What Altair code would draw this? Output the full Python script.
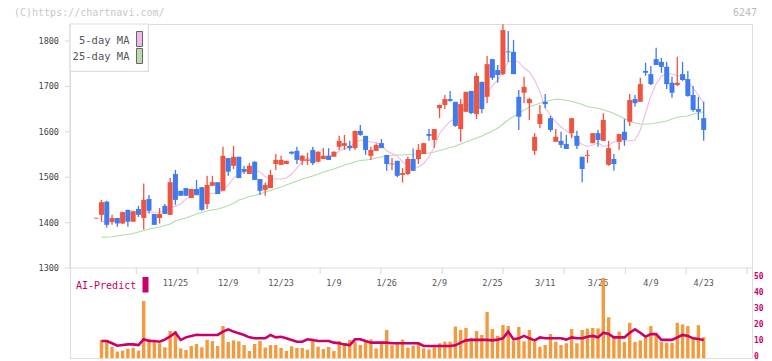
import altair as alt
import pandas as pd

# ---------------- data ----------------
opens = [1409, 1417, 1446, 1401, 1410, 1398, 1428, 1402, 1430, 1410,
         1452, 1419, 1410, 1437, 1417, 1507, 1470, 1476, 1454, 1474,
         1478, 1441, 1481, 1489, 1470, 1542, 1525, 1545, 1518, 1507,
         1534, 1496, 1472, 1476, 1529, 1527, 1529, 1556, 1558, 1536,
         1536, 1560, 1534, 1540, 1547, 1545, 1567, 1569, 1569, 1564,
         1602, 1591, 1547, 1558, 1575, 1549, 1528, 1536, 1505, 1507,
         1540, 1540, 1551, 1595, 1582, 1652, 1659, 1672, 1666, 1606,
         1644, 1690, 1639, 1710, 1677, 1760, 1736, 1727, 1777, 1776,
         1677, 1686, 1663, 1558, 1617, 1666, 1630, 1578, 1580, 1573,
         1597, 1591, 1545, 1547, 1575, 1597, 1580, 1527, 1540, 1578,
         1600, 1622, 1672, 1666, 1734, 1727, 1760, 1754, 1743, 1708,
         1703, 1727, 1716, 1681, 1650, 1630]
highs = [1410.5, 1450, 1448, 1417, 1410, 1424, 1428, 1426, 1437, 1486,
         1461, 1419, 1432, 1441, 1498, 1516, 1470, 1476, 1474, 1494,
         1478, 1503, 1503, 1489, 1567, 1542, 1569, 1545, 1525, 1531,
         1535, 1496, 1488, 1516, 1551, 1547, 1536, 1557, 1567, 1549,
         1554, 1567, 1557, 1564, 1564, 1557, 1591, 1593, 1580, 1602,
         1615, 1591, 1567, 1575, 1584, 1549, 1542, 1536, 1520, 1545,
         1563, 1573, 1576, 1606, 1606, 1660, 1681, 1690, 1666, 1672,
         1688, 1690, 1730, 1710, 1767, 1760, 1747, 1837, 1822, 1802,
         1692, 1721, 1675, 1597, 1659, 1683, 1635, 1606, 1600, 1593,
         1631, 1602, 1545, 1560, 1597, 1604, 1641, 1580, 1551, 1595,
         1628, 1683, 1681, 1719, 1752, 1745, 1785, 1763, 1754, 1721,
         1765, 1754, 1734, 1701, 1677, 1666]
lows = [1409, 1402, 1389, 1395, 1391, 1397, 1391, 1402, 1412, 1385,
        1420, 1395, 1398, 1419, 1417, 1439, 1459, 1459, 1454, 1461,
        1426, 1430, 1481, 1463, 1470, 1503, 1518, 1498, 1507, 1507,
        1494, 1461, 1459, 1476, 1516, 1527, 1529, 1550, 1529, 1527,
        1527, 1527, 1533, 1540, 1538, 1545, 1560, 1560, 1558, 1560,
        1591, 1549, 1538, 1558, 1564, 1514, 1516, 1500, 1488, 1505,
        1514, 1529, 1551, 1580, 1564, 1630, 1650, 1666, 1611, 1578,
        1644, 1639, 1628, 1641, 1663, 1714, 1708, 1725, 1754, 1727,
        1604, 1663, 1626, 1549, 1608, 1652, 1600, 1578, 1564, 1562,
        1586, 1562, 1489, 1531, 1575, 1567, 1580, 1525, 1514, 1560,
        1569, 1613, 1655, 1666, 1723, 1703, 1747, 1730, 1694, 1675,
        1701, 1712, 1677, 1644, 1626, 1580]
closes = [1410.5, 1445, 1395, 1410, 1398, 1423, 1402, 1425, 1417, 1450,
          1426, 1395, 1419, 1419, 1489, 1450, 1459, 1459, 1474, 1461,
          1428, 1483, 1489, 1463, 1547, 1512, 1545, 1498, 1512, 1525,
          1494, 1470, 1483, 1505, 1538, 1538, 1536, 1552, 1538, 1547,
          1539, 1531, 1556, 1547, 1538, 1556, 1580, 1575, 1564, 1602,
          1593, 1560, 1560, 1571, 1564, 1529, 1530, 1503, 1509, 1540,
          1514, 1560, 1575, 1591, 1606, 1659, 1672, 1668, 1613, 1661,
          1688, 1641, 1723, 1650, 1749, 1719, 1725, 1824, 1775, 1727,
          1633, 1699, 1672, 1589, 1639, 1661, 1604, 1589, 1571, 1562,
          1630, 1569, 1518, 1549, 1597, 1582, 1626, 1564, 1529, 1595,
          1582, 1670, 1663, 1705, 1730, 1705, 1747, 1743, 1705, 1686,
          1708, 1714, 1679, 1648, 1644, 1604]
ma5 = [None, 1402.0, 1403.5, 1405.7, 1409.0, 1411.2, 1414.5, 1420.0, 1422.2, 1422.7,
       1422.7, 1422.7, 1422.7, 1425.6, 1431.1, 1436.6, 1441.0, 1452.0, 1458.6, 1460.8,
       1460.8, 1461.9, 1464.5, 1465.2, 1470.7, 1482.8, 1498.2, 1507.0, 1513.7, 1515.9,
       1514.8, 1511.5, 1501.5, 1496.0, 1496.0, 1496.0, 1498.2, 1507.0, 1520.3, 1533.5,
       1541.6, 1542.3, 1543.4, 1545.6, 1546.7, 1547.8, 1557.7, 1562.1, 1566.5, 1575.3,
       1581.9, 1579.7, 1577.5, 1576.4, 1570.9, 1557.7, 1552.2, 1546.7, 1533.5, 1525.8,
       1521.4, 1522.5, 1530.2, 1544.5, 1566.5, 1596.3, 1610.6, 1622.7, 1629.3, 1639.2,
       1656.8, 1661.2, 1666.7, 1671.1, 1685.5, 1700.9, 1714.1, 1731.7, 1753.7, 1757.0,
       1753.7, 1740.5, 1731.7, 1714.1, 1687.7, 1652.4, 1637.0, 1621.6, 1610.6, 1601.8,
       1595.2, 1579.7, 1572.0, 1567.6, 1570.9, 1575.3, 1567.6, 1569.8, 1577.5, 1579.7,
       1580.4, 1580.4, 1581.9, 1604.0, 1641.4, 1678.9, 1705.3, 1722.9, 1727.3, 1727.3,
       1724.0, 1721.8, 1711.9, 1696.5, 1681.1, 1663.4]
ma25 = [None, 1367.6, 1368.3, 1368.9, 1370.5, 1372.7, 1373.8, 1376.0, 1379.3, 1382.6,
        1385.9, 1388.1, 1390.3, 1393.6, 1396.9, 1403.5, 1406.8, 1410.1, 1414.5, 1418.9,
        1422.2, 1425.6, 1427.8, 1430.0, 1433.3, 1437.7, 1442.1, 1449.8, 1453.1, 1457.5,
        1459.7, 1463.0, 1467.4, 1470.7, 1475.1, 1478.4, 1482.8, 1487.2, 1491.6, 1496.0,
        1499.3, 1502.6, 1507.0, 1511.5, 1514.8, 1518.1, 1522.5, 1526.9, 1530.2, 1533.5,
        1536.8, 1537.9, 1539.4, 1542.3, 1544.5, 1546.7, 1547.8, 1548.9, 1548.9, 1550.0,
        1550.4, 1551.1, 1552.2, 1553.3, 1555.5, 1558.8, 1562.1, 1565.4, 1568.7, 1573.1,
        1577.5, 1581.9, 1586.3, 1590.7, 1596.3, 1601.8, 1607.7, 1617.2, 1626.0, 1633.7,
        1640.7, 1648.0, 1654.6, 1659.0, 1662.8, 1666.7, 1669.4, 1671.6, 1671.1, 1669.4,
        1666.7, 1664.1, 1660.1, 1655.3, 1653.5, 1651.8, 1648.0, 1644.7, 1640.3, 1634.8,
        1629.3, 1623.8, 1619.4, 1617.2, 1616.5, 1617.8, 1619.4, 1621.6, 1623.8, 1628.2,
        1631.9, 1633.7, 1634.8, 1639.2, 1641.4, 1642.5]
volume = [None, 11.3, 11.3, 7.0, 4.0, 4.6, 5.8, 6.3, 4.6, 35.6,
          11.9, 10.2, 9.2, 6.7, 16.9, 16.9, 6.0, 5.0, 7.5, 8.8,
          6.7, 11.3, 10.6, 7.5, 20.0, 10.0, 11.0, 10.4, 8.1, 4.4,
          8.8, 10.6, 6.5, 8.1, 8.1, 6.3, 4.4, 7.3, 6.3, 6.3,
          5.2, 10.8, 7.0, 5.6, 7.0, 4.4, 10.6, 8.1, 11.3, 10.2,
          8.1, 10.2, 11.7, 6.0, 9.6, 17.5, 8.0, 9.2, 11.5, 6.5,
          7.7, 9.2, 6.0, 5.4, 6.7, 9.2, 10.2, 10.2, 19.6, 17.5,
          18.8, 12.5, 16.9, 14.4, 28.8, 18.1, 13.8, 20.6, 20.0, 10.6,
          19.4, 10.4, 17.5, 10.2, 7.0, 8.1, 15.0, 10.2, 8.1, 9.2,
          18.1, 9.2, 17.5, 18.4, 18.8, 18.5, 50.0, 25.5, 13.0, 16.5,
          10.0, 22.0, 10.0, 11.0, 12.5, 20.0, 15.0, 10.0, 9.5, 9.5,
          22.0, 21.0, 20.0, 12.0, 20.5, 13.0]
ai_predict = [None, 10.6, 10.6, 9.2, 7.7, 8.1, 8.5, 8.5, 8.1, 11.7,
              10.6, 10.6, 10.2, 11.5, 13.5, 15.8, 11.3, 12.9, 13.8, 14.5,
              14.4, 14.4, 14.4, 14.4, 16.5, 17.9, 16.5, 15.4, 14.4, 12.9,
              12.3, 12.3, 12.3, 14.4, 12.9, 13.3, 12.3, 11.3, 10.2, 10.2,
              11.7, 11.3, 10.6, 10.6, 10.6, 9.6, 9.2, 8.5, 8.1, 11.7,
              11.7, 10.6, 9.6, 9.6, 9.6, 9.6, 9.2, 9.2, 9.2, 9.2,
              9.2, 9.2, 7.5, 7.5, 7.5, 7.5, 7.5, 7.5, 7.9, 9.6,
              11.0, 11.3, 11.3, 11.3, 11.3, 11.0, 11.5, 12.3, 16.5, 11.7,
              12.3, 13.8, 12.3, 11.0, 12.9, 12.3, 12.3, 12.3, 12.3, 11.5,
              12.9, 12.3, 12.3, 13.3, 13.8, 12.9, 15.8, 15.0, 12.9, 12.9,
              12.9, 15.8, 17.9, 15.8, 13.3, 14.9, 14.9, 11.3, 11.3, 11.3,
              12.9, 14.4, 13.8, 12.3, 11.9, 11.3]

date_label_idx = [15, 25, 35, 45, 55, 65, 75, 85, 95, 105, 115]
date_labels = ["11/25", "12/9", "12/23", "1/9", "1/26", "2/9", "2/25",
               "3/11", "3/26", "4/9", "4/23"]
price_ticks = [1300, 1400, 1500, 1600, 1700, 1800]
vol_ticks = [0, 10, 20, 30, 40, 50]
x_tick_pos = [7.6, 19.2, 30.8, 42.4, 53.9, 65.5, 77.0, 88.6, 100.2, 111.7, 123.2]

# ---------------- styling ----------------
RED = "#EF5441"
BLUE = "#3F7BEE"
PINK = "#EBBBEB"
GREEN = "#B3DCA5"
ORANGE = "#F39A3E"
MAGENTA = "#CC0066"
AXIS_GREY = "#dddddd"
MONO = "DejaVu Sans Mono"

W, H = 682, 334
X_DOMAIN = [-4.01, 123.2]
PRICE_DOMAIN = [1101.7, 1837.4]
VOL_DOMAIN = [0, 208.75]

n = len(opens)
df = pd.DataFrame({
    "i": list(range(n)),
    "open": opens, "high": highs, "low": lows, "close": closes,
    "ma5": ma5, "ma25": ma25, "vol": volume, "ai": ai_predict,
})
price_tick_df = pd.DataFrame({"p": price_ticks, "lab": [str(v) for v in price_ticks]})
vol_tick_df = pd.DataFrame({"v": vol_ticks, "lab": [str(v) for v in vol_ticks]})
date_df = pd.DataFrame({"i": date_label_idx, "lab": date_labels})
xtick_df = pd.DataFrame({"i": x_tick_pos})

xscale = alt.Scale(domain=X_DOMAIN, nice=False, zero=False)
pscale = alt.Scale(domain=PRICE_DOMAIN, nice=False, zero=False)
vscale = alt.Scale(domain=VOL_DOMAIN, nice=False, zero=False)

X = alt.X("i:Q", scale=xscale, axis=None)
color_cond = alt.condition("datum.close >= datum.open", alt.value(RED), alt.value(BLUE))

base = alt.Chart(df)

# price panel
ma25_line = base.mark_line(color=GREEN, strokeWidth=1.1).encode(
    x=X, y=alt.Y("ma25:Q", scale=pscale, axis=None))
ma5_line = base.mark_line(color=PINK, strokeWidth=1.1).encode(
    x=X, y=alt.Y("ma5:Q", scale=pscale, axis=None))
wicks = base.mark_rule(strokeWidth=1.3).encode(
    x=X, y=alt.Y("low:Q", scale=pscale, axis=None), y2="high:Q", color=color_cond)
bodies = base.mark_bar(size=5).encode(
    x=X, y=alt.Y("open:Q", scale=pscale, axis=None), y2="close:Q", color=color_cond)

price_labels = alt.Chart(price_tick_df).mark_text(
    font=MONO, fontSize=8.5, color="#444", align="right", baseline="middle").encode(
    x=alt.value(-11), y=alt.Y("p:Q", scale=pscale, axis=None), text="lab:N")
price_tickmarks = alt.Chart(price_tick_df).mark_rule(color=AXIS_GREY, strokeWidth=1.2).encode(
    x=alt.value(-5), x2=alt.value(0), y=alt.Y("p:Q", scale=pscale, axis=None))

# x axis (ticks + date labels)
x_tickmarks = alt.Chart(xtick_df).mark_rule(color=AXIS_GREY, strokeWidth=1.2).encode(
    x=X, y=alt.value(244), y2=alt.value(250))
date_text = alt.Chart(date_df).mark_text(
    font=MONO, fontSize=8.5, color="#555", align="center", baseline="middle").encode(
    x=X, y=alt.value(258.5), text="lab:N")

# volume panel
vol_bars = base.mark_bar(size=3.4, color=ORANGE).encode(
    x=X, y=alt.Y("vol:Q", scale=vscale, axis=None))
ai_line = base.mark_line(color=MAGENTA, strokeWidth=2.6).encode(
    x=X, y=alt.Y("ai:Q", scale=vscale, axis=None))
vol_labels = alt.Chart(vol_tick_df).mark_text(
    font=MONO, fontSize=8, fontWeight="bold", color=MAGENTA,
    align="left", baseline="middle", dy=-1.5).encode(
    x=alt.value(684), y=alt.Y("v:Q", scale=vscale, axis=None), text="lab:N")

# ---------------- decorations ----------------
one = pd.DataFrame({"k": [0]})
deco_base = alt.Chart(one)

y_axis_line = deco_base.mark_rule(color=AXIS_GREY, strokeWidth=1.2).encode(
    x=alt.value(0), y=alt.value(0), y2=alt.value(244))
x_axis_line = deco_base.mark_rule(color=AXIS_GREY, strokeWidth=1.2).encode(
    x=alt.value(0), x2=alt.value(682), y=alt.value(244))
legend_box = deco_base.mark_rect(fill="white", stroke=AXIS_GREY, strokeWidth=1.2).encode(
    x=alt.value(0), x2=alt.value(78.3), y=alt.value(0), y2=alt.value(47.3))
leg_txt1 = deco_base.mark_text(text="5-day MA", font=MONO, fontSize=10.5, color="#555",
                               align="right", baseline="middle").encode(
    x=alt.value(59.5), y=alt.value(17))
leg_txt2 = deco_base.mark_text(text="25-day MA", font=MONO, fontSize=10.5, color="#555",
                               align="right", baseline="middle").encode(
    x=alt.value(59.5), y=alt.value(32.5))
sw1 = deco_base.mark_rect(fill="#EDB9EE", stroke="#666", strokeWidth=1).encode(
    x=alt.value(66.5), x2=alt.value(72.5), y=alt.value(7.5), y2=alt.value(22.5))
sw2 = deco_base.mark_rect(fill="#B9DDAA", stroke="#666", strokeWidth=1).encode(
    x=alt.value(66.5), x2=alt.value(72.5), y=alt.value(24.5), y2=alt.value(39.5))
ai_txt = deco_base.mark_text(text="AI-Predict", font=MONO, fontSize=10, color=MAGENTA,
                             align="left", baseline="middle").encode(
    x=alt.value(6), y=alt.value(262))
ai_sw = deco_base.mark_rect(fill=MAGENTA).encode(
    x=alt.value(72.5), x2=alt.value(78.5), y=alt.value(253), y2=alt.value(268.5))
wm = deco_base.mark_text(text="(C)https://chartnavi.com/", font=MONO, fontSize=10,
                         color="#c8c8c8", align="left", baseline="middle").encode(
    x=alt.value(-56), y=alt.value(-11.5))
code = deco_base.mark_text(text="6247", font=MONO, fontSize=10, color="#bbbbbb",
                           align="right", baseline="middle").encode(
    x=alt.value(687), y=alt.value(-11.5))

chart = alt.layer(
    y_axis_line, x_axis_line, x_tickmarks, price_tickmarks, price_labels, date_text,
    vol_bars, ai_line, vol_labels,
    ma25_line, ma5_line, wicks, bodies,
    legend_box, leg_txt1, leg_txt2, sw1, sw2, ai_txt, ai_sw, wm, code,
).resolve_scale(
    y="independent"
).properties(
    width=W, height=H,
    autosize=alt.AutoSizeParams(type="none"),
    padding={"left": 62, "top": 16, "right": 12, "bottom": 4},
).configure_view(stroke=None).configure(background="white")

chart.save("out.html", embed_options={"renderer": "svg", "actions": False})
